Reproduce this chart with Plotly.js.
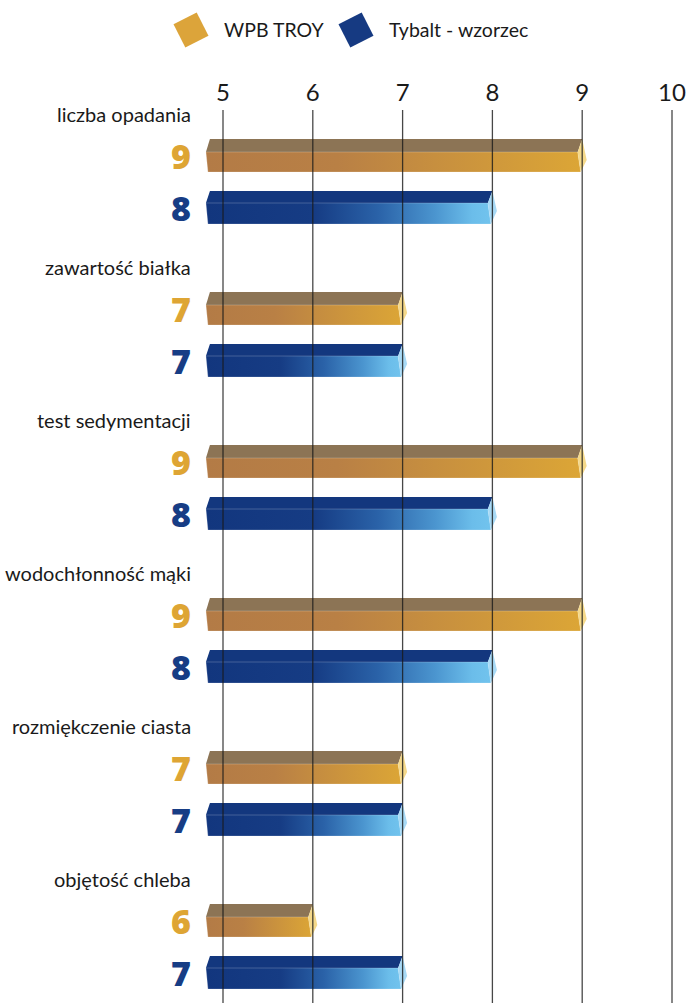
<!DOCTYPE html>
<html>
<head>
<meta charset="utf-8">
<script src="https://cdn.plot.ly/plotly-3.0.1.min.js"></script>
<style>html,body{margin:0;padding:0;background:#fff;}#chart{width:686px;height:1003px;}</style>
</head>
<body>
<div id="chart"></div>
<script>
// ---- data ----
const categories = ['liczba opadania','zawartość białka','test sedymentacji','wodochłonność mąki','rozmiękczenie ciasta','objętość chleba'];
const troyValues = [9, 7, 9, 9, 7, 6];
const tybaltValues = [8, 7, 8, 8, 7, 7];
const seriesNames = ['WPB TROY', 'Tybalt - wzorzec'];
const tickVals = [5, 6, 7, 8, 9, 10];

// ---- style ----
const W = 686, H = 1003;
const PX_X = 89.8, PX_Y = 153;
const X5PX = 223, PLOT_TOP = 110, GROUP_TOP = 139;
const BASE = 4.81;
const dx = p => p / PX_X, dy = p => p / PX_Y;
const NARROW = 'Lato, "DejaVu Sans Condensed", sans-serif';

const styles = [
  { geom: {top: 0, mid: 13, bot: 33}, topColor: '#8C7455', capColor: '#F5D98A', numColor: '#DEA534', legColor: '#DCA43A',
    grad: [[0,'#B37B46'],[0.35,'#B98045'],[1,'#DCA636']] },
  { geom: {top: 52, mid: 64, bot: 85}, topColor: '#13377E', capColor: '#A8DAF6', numColor: '#173D85', legColor: '#163A82',
    grad: [[0,'#12367E'],[0.38,'#163C84'],[0.6,'#2A62A8'],[0.8,'#4B95CF'],[0.93,'#6BBDEA'],[1,'#72C4EE']] }
];
const series = [troyValues, tybaltValues];

const traces = [];
const annotations = [];

series.forEach((vals, s) => {
  const st = styles[s], g = st.geom;
  vals.forEach((val, k) => {
    const y0 = k + dy(g.top), y1 = k + dy(g.mid), y2 = k + dy(g.bot);
    traces.push({
      type: 'scatter', mode: 'lines', fill: 'toself', hoverinfo: 'skip', showlegend: false,
      x: [BASE + dx(4), val, val - dx(4.5), BASE, BASE + dx(4)],
      y: [y0, y0, y1, y1, y0],
      line: {width: 0}, fillcolor: st.topColor
    });
    traces.push({
      type: 'scatter', mode: 'lines', fill: 'toself', hoverinfo: 'skip', showlegend: false,
      x: [BASE, val - dx(4.5), val - dx(1.5), BASE + dx(2), BASE],
      y: [y1, y1, y2, y2, y1],
      line: {width: 0.7, color: 'rgba(255,255,255,0.3)'},
      fillgradient: {type: 'horizontal', colorscale: st.grad, start: BASE, stop: val}
    });
    traces.push({
      type: 'scatter', mode: 'lines', fill: 'toself', hoverinfo: 'skip', showlegend: false,
      x: [val, val + dx(4.5), val - dx(1.5), val - dx(4.5), val],
      y: [y0, y1 + dy(8), y2, y1, y0],
      line: {width: 0}, fillcolor: st.capColor
    });
    annotations.push({
      xref: 'x', yref: 'y', x: BASE - dx(13), y: k + dy((g.top + g.bot) / 2),
      xanchor: 'right', yanchor: 'middle', showarrow: false, text: String(val),
      font: {family: '"Open Sans", "DejaVu Sans", sans-serif', size: 34, weight: 800, color: st.numColor}
    });
  });
});

categories.forEach((c, k) => {
  annotations.push({
    xref: 'x', yref: 'y', x: 5 + dx(193 - X5PX), y: k + dy(-25),
    xanchor: 'right', yanchor: 'middle', showarrow: false, text: c,
    font: {family: NARROW, size: 20, color: '#1a1a1a'}
  });
});

// legend (custom)
const legPos = [{mx: 191, tx: 222}, {mx: 356, tx: 387}];
seriesNames.forEach((n, s) => {
  traces.push({
    type: 'scatter', mode: 'markers', xaxis: 'x2', yaxis: 'y2', hoverinfo: 'skip', showlegend: false, name: n,
    x: [legPos[s].mx], y: [30],
    marker: {symbol: 'square', size: 26, angle: -27, color: styles[s].legColor, line: {width: 0}}
  });
  annotations.push({
    xref: 'paper', yref: 'paper', x: legPos[s].tx / W, y: 1 - 30 / H,
    xanchor: 'left', yanchor: 'middle', showarrow: false, text: n,
    font: {family: NARROW, size: 19.5, color: '#1a1a1a'}
  });
});

const shapes = tickVals.map(t => ({
  type: 'line', xref: 'x', yref: 'paper', x0: t, x1: t, y0: 0, y1: (H - PLOT_TOP) / H,
  line: {color: 'rgba(25,25,25,0.8)', width: 1.3}, layer: 'above'
}));

const layout = {
  width: W, height: H,
  margin: {l: 0, r: 0, t: 0, b: 0},
  paper_bgcolor: '#ffffff', plot_bgcolor: 'rgba(0,0,0,0)',
  showlegend: false,
  xaxis: {
    range: [5 - X5PX / PX_X, 5 + (W - X5PX) / PX_X], side: 'top', anchor: 'y',
    tickvals: tickVals, ticks: '', ticklabelstandoff: 3, ticklabeloverflow: 'allow',
    showgrid: false, zeroline: false, showline: false, fixedrange: true,
    tickfont: {family: NARROW, size: 24, color: '#1a1a1a'}
  },
  yaxis: {
    domain: [0, (H - PLOT_TOP) / H], range: [(H - GROUP_TOP) / PX_Y, (PLOT_TOP - GROUP_TOP) / PX_Y],
    visible: false, fixedrange: true, anchor: 'x'
  },
  xaxis2: {domain: [0, 1], range: [0, W], visible: false, anchor: 'y2', fixedrange: true},
  yaxis2: {domain: [0, 1], range: [H, 0], visible: false, anchor: 'x2', fixedrange: true},
  shapes: shapes,
  annotations: annotations
};

Plotly.newPlot('chart', traces, layout, {displayModeBar: false, staticPlot: true});
</script>
</body>
</html>
